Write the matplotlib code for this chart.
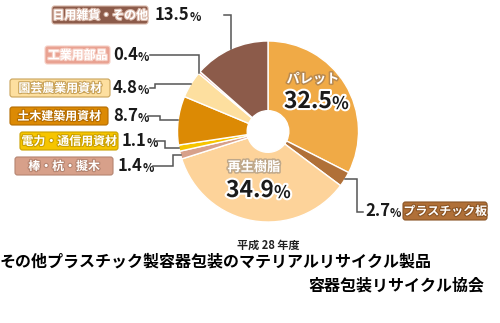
import numpy as np
import matplotlib.pyplot as plt
from matplotlib.patches import FancyBboxPatch
import matplotlib.patheffects as pe

plt.rcParams['font.family'] = ['Noto Sans CJK JP', 'DejaVu Sans']

# share of each product (%), clockwise from 12 o'clock
categories = ['パレット', 'プラスチック板', '再生樹脂', '棒・杭・擬木', '電力・通信用資材',
              '土木建築用資材', '園芸農業用資材', '工業用部品', '日用雑貨・その他']
shares = [32.5, 2.7, 34.9, 1.4, 1.1, 8.7, 4.8, 0.4, 13.5]
colors = ['#F0AA46', '#B07038', '#FDD39A', '#D7A08A', '#F6C500',
          '#DC8A04', '#FDDF9F', '#E9A292', '#8C5B4A']

year_label = '平成 28 年度'
title = 'その他プラスチック製容器包装のマテリアルリサイクル製品'
source = '容器包装リサイクル協会'

W, H = 500, 323
fig = plt.figure(figsize=(W / 100, H / 100), dpi=100)

# pie geometry in pixels
cx, cy, r = 268, 131.5, 90.5
pax = fig.add_axes([(cx - r) / W, (H - cy - r) / H, 2 * r / W, 2 * r / H])
wedges, _ = pax.pie(shares, colors=colors, startangle=90, counterclock=False,
                    radius=1, wedgeprops=dict(width=0.77, edgecolor='white', linewidth=1))
pax.set_xlim(-1, 1)
pax.set_ylim(-1, 1)
pax.axis('off')

# overlay in pixel coordinates (y down)
ax = fig.add_axes([0, 0, 1, 1], facecolor='none')
ax.set_xlim(0, W)
ax.set_ylim(H, 0)
ax.axis('off')

def anchor(i):
    t = wedges[i]
    a = np.deg2rad((t.theta1 + t.theta2) / 2)
    return cx + r * np.cos(a), cy - r * np.sin(a)

def pct_text(x, y, value, size=12, small=8.5, ha='left', color='#1a1a1a', stroke=None):
    eff = [pe.withStroke(linewidth=stroke, foreground='white')] if stroke else None
    t = ax.text(x, y, f'{value}', fontsize=size, fontweight='bold', color=color,
                ha=ha, va='baseline', path_effects=eff)
    ax.annotate('%', xy=(1, 0), xycoords=t, xytext=(0, 0), textcoords='offset points',
                fontsize=small, fontweight='bold', color=color, va='bottom', ha='left',
                path_effects=eff)
    return t

def label_box(x0, x1, yc, text, fill, edge):
    box = FancyBboxPatch((x0, yc - 9), x1 - x0, 18,
                         boxstyle='round,pad=0,rounding_size=2.5',
                         facecolor=fill, edgecolor=edge, linewidth=0.8)
    ax.add_patch(box)
    ax.text((x0 + x1) / 2, yc + 0.5, text, fontsize=8.6, fontweight='bold', color='white',
            ha='center', va='center',
            path_effects=[pe.withStroke(linewidth=1.6, foreground=edge)])

line_kw = dict(color='#555555', linewidth=1.1, solid_joinstyle='miter')

# left-hand labels: index, box x0, box x1, y centre, percent x, line start, elbow x
left = [
    (8, 52, 148, 15, 155, 224, None),
    (7, 45, 110, 55, 113, 150, None),
    (6, 10, 110, 88, 113, 150, 155),
    (5, 10, 108, 116, 113, 148, 160),
    (4, 20, 118, 141, 122, 155, 165),
    (3, 15, 113, 166, 118, 153, 173),
]
for i, x0, x1, yc, px, ls, ex in left:
    dark = {8: '#d9b7a8', 7: '#f6d0c6', 6: '#c9a35a', 5: '#b56c00',
            4: '#caa000', 3: '#b58470'}[i]
    label_box(x0, x1, yc, categories[i], colors[i], dark)
    pct_text(px, yc + 5, shares[i])
    axp, ayp = anchor(i)
    if ex is None:
        ax.plot([ls, axp, axp], [yc, yc, ayp], **line_kw)
    else:
        ax.plot([ls, ex, ex, axp], [yc, yc, ayp, ayp], **line_kw)

# right-hand label for the thin brown slice
axp, ayp = anchor(1)
ax.plot([axp, 357, 357, 363], [ayp, ayp, 212, 212], **line_kw)
pct_text(365, 216, shares[1])
label_box(403, 487, 211, categories[1], colors[1], '#8a5424')

# labels inside the two big slices
halo = [pe.withStroke(linewidth=2.2, foreground='#b98a50')]
ax.text(313, 79, categories[0], fontsize=9.5, fontweight='bold', color='white',
        ha='center', va='center', path_effects=halo)
pct_text(308, 108, shares[0], size=16.5, small=12.5, ha='center', stroke=3)
ax.text(254, 167, categories[2], fontsize=9.5, fontweight='bold', color='white',
        ha='center', va='center',
        path_effects=[pe.withStroke(linewidth=2.2, foreground='#bfa88a')])
pct_text(250, 197, shares[2], size=16.5, small=12.5, ha='center', stroke=3)

# captions
ax.text(268, 245, year_label, fontsize=8, fontweight='bold', color='#222222',
        ha='center', va='center')
ax.text(0, 262, title, fontsize=11.5, fontweight='bold', color='black',
        ha='left', va='center')
ax.text(484, 285, source, fontsize=11.5, fontweight='bold', color='black',
        ha='right', va='center')

fig.savefig('out.png', dpi=100, facecolor='white')
